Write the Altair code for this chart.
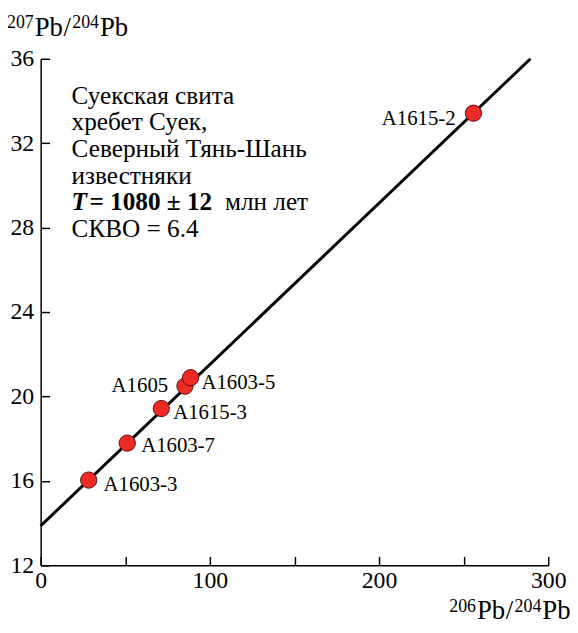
import altair as alt
import pandas as pd

# ---- data ----
samples = ["A1603-3", "A1603-7", "A1615-3", "A1605", "A1603-5", "A1615-2"]
pb206 = [28.4, 51.2, 71.3, 85.3, 88.6, 255.8]
pb207 = [16.04, 17.79, 19.43, 20.49, 20.89, 33.42]
label_dx = [15, 14, 12, -17, 11, -18]
label_dy = [5, 3, 5, 0, 5, 6]
label_align = ["left", "left", "left", "right", "left", "right"]

iso_x = [0, 289.5]
iso_y = [13.87, 36.0]

x_label_ticks = [0, 100, 200, 300]
x_all_ticks = [0, 50, 100, 150, 200, 250, 300]
y_ticks = [12, 16, 20, 24, 28, 32, 36]

note_lines = ["Суекская свита", "хребет Суек,", "Северный Тянь-Шань", "известняки"]
note_last = "СКВО = 6.4"
note_x = 18.3
note_y = [33.87, 32.61, 31.34, 30.08, 28.82, 27.55]

# axis titles built from pieces (superscript isotope masses)
ytitle_text = ["207", "Pb", "/", "204", "Pb"]
ytitle_x = [-34, -6, 23, 32, 60]
ytitle_y = [-31, -23, -23, -31, -23]
xtitle_text = ["206", "Pb", "/", "204", "Pb"]
xtitle_x = [413, 441, 470, 479, 507]
xtitle_y = [559, 566, 566, 559, 566]
title_sup = [True, False, False, True, False]

FONT = "Liberation Serif"
W, H = 513, 512

pts = pd.DataFrame({"x": pb206, "y": pb207, "name": samples})
iso = pd.DataFrame({"x": iso_x, "y": iso_y})

xs = alt.Scale(domain=[0, 300], nice=False, zero=False)
ys = alt.Scale(domain=[12, 36], nice=False, zero=False)

line = alt.Chart(iso).mark_line(color="black", strokeWidth=3).encode(
    x=alt.X("x:Q", scale=xs, axis=alt.Axis(
        orient="bottom", values=x_label_ticks, ticks=False, grid=False,
        domainColor="black", domainWidth=1.5, labelFont=FONT, labelFontSize=24,
        labelColor="black", labelPadding=3, labelFlush=False, title=None)),
    y=alt.Y("y:Q", scale=ys, axis=alt.Axis(
        orient="left", values=y_ticks, ticks=False, grid=False,
        domainColor="black", domainWidth=1.5, labelFont=FONT, labelFontSize=24,
        labelColor="black", labelPadding=7, labelFlush=False, title=None)),
)

points = alt.Chart(pts).mark_point(
    shape="circle", filled=True, fill="#ee2a24", stroke="#5a1010",
    strokeWidth=1, size=270, opacity=1).encode(
    x=alt.X("x:Q", scale=xs, axis=alt.Axis(
        orient="top", offset=-H, values=x_all_ticks, labels=False, domain=False,
        grid=False, ticks=True, tickSize=9, tickColor="black", tickWidth=1.5, title=None)),
    y=alt.Y("y:Q", scale=ys, axis=alt.Axis(
        orient="right", offset=-W, values=y_ticks, labels=False, domain=False,
        grid=False, ticks=True, tickSize=9, tickColor="black", tickWidth=1.5, title=None)),
)

layers = [line, points]

for i, nm in enumerate(samples):
    lab = alt.Chart(pts.iloc[[i]]).mark_text(
        font=FONT, fontSize=21, color="black", align=label_align[i],
        baseline="middle", dx=label_dx[i], dy=label_dy[i]).encode(
        x=alt.X("x:Q", scale=xs, axis=None),
        y=alt.Y("y:Q", scale=ys, axis=None),
        text="name:N")
    layers.append(lab)

NOTE_SIZE = 25.5
notes = pd.DataFrame({"x": [note_x] * 4, "y": note_y[:4], "t": note_lines})
notes_chart = alt.Chart(notes).mark_text(
    font=FONT, fontSize=NOTE_SIZE, color="black", align="left", baseline="alphabetic").encode(
    x=alt.X("x:Q", scale=xs, axis=None), y=alt.Y("y:Q", scale=ys, axis=None), text="t:N")
layers.append(notes_chart)

seg_text = ["T", "= 1080 ± 12", "млн лет"]
seg_dx = [0, 18, 155]
seg_weight = ["bold", "bold", "normal"]
seg_style = ["italic", "normal", "normal"]
for t, dx, wgt, sty in zip(seg_text, seg_dx, seg_weight, seg_style):
    seg = alt.Chart(pd.DataFrame({"x": [note_x], "y": [note_y[4]], "t": [t]})).mark_text(
        font=FONT, fontSize=NOTE_SIZE, color="black", align="left", baseline="alphabetic",
        dx=dx, fontWeight=wgt, fontStyle=sty).encode(
        x=alt.X("x:Q", scale=xs, axis=None), y=alt.Y("y:Q", scale=ys, axis=None), text="t:N")
    layers.append(seg)

last = alt.Chart(pd.DataFrame({"x": [note_x], "y": [note_y[5]], "t": [note_last]})).mark_text(
    font=FONT, fontSize=NOTE_SIZE, color="black", align="left", baseline="alphabetic").encode(
    x=alt.X("x:Q", scale=xs, axis=None), y=alt.Y("y:Q", scale=ys, axis=None), text="t:N")
layers.append(last)

# axis titles as text pieces
for texts, xsv, ysv in [(ytitle_text, ytitle_x, ytitle_y), (xtitle_text, xtitle_x, xtitle_y)]:
    for t, px, py, sup in zip(texts, xsv, ysv, title_sup):
        piece = alt.Chart(pd.DataFrame({"t": [t]})).mark_text(
            font=FONT, fontSize=18 if sup else 27, color="black", align="left",
            baseline="alphabetic").encode(
            x=alt.value(px), y=alt.value(py), text="t:N")
        layers.append(piece)

chart = alt.layer(*layers).resolve_axis(x="independent", y="independent").properties(
    width=W, height=H,
    autosize=alt.AutoSizeParams(type="none"),
    padding={"left": 33, "top": 48, "right": 22, "bottom": 57},
    background="white",
).configure_view(strokeWidth=0)

chart.save("out.html", embed_options={"renderer": "svg", "actions": False})
